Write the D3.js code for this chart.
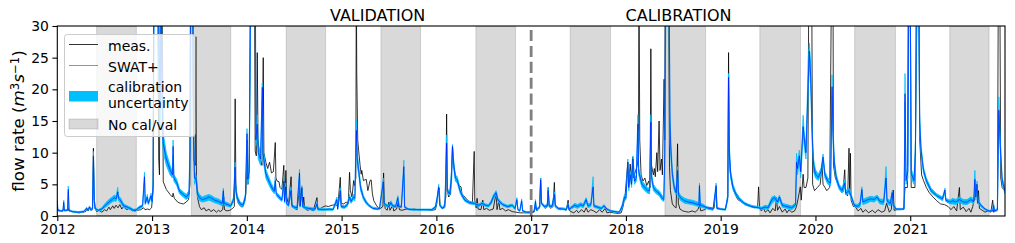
<!DOCTYPE html>
<html><head><meta charset="utf-8">
<script src="https://cdn.jsdelivr.net/npm/d3@7"></script>
<style>body{margin:0;background:#fff} text{font-family:"DejaVu Sans",sans-serif}</style>
</head><body><svg id="c" width="1015" height="243"></svg>
<script>
// ---------- DATA ----------
const yearTicks = [2012,2013,2014,2015,2016,2017,2018,2019,2020,2021];
const yTicks = [0,5,10,15,20,25,30];
const panelTitles = [{label:"VALIDATION", at:2015.38},{label:"CALIBRATION", at:2018.555}];
const splitYear = 2017;
// "No cal/val" periods (June-October)
const noCalVal = [[2012.415,2012.834],[2013.415,2013.830],[2014.415,2014.831],[2015.415,2015.833],[2016.417,2016.835],
  [2017.412,2017.838],[2018.412,2018.840],[2019.413,2019.842],[2020.414,2020.844],[2021.417,2021.832]];
// measured flow [decimal year, m3/s]
const meas = [
[2012.000,1.2],[2012.010,1.0],[2012.025,0.9],[2012.045,0.8],[2012.066,1.1],[2012.074,0.8],[2012.100,0.9],[2012.114,1.3],[2012.122,0.8],[2012.150,0.7],
[2012.190,0.6],[2012.230,0.5],[2012.270,0.6],[2012.300,0.7],[2012.315,1.2],[2012.325,0.8],[2012.343,1.4],[2012.353,0.9],[2012.372,1.0],[2012.381,10.7],
[2012.389,3.0],[2012.398,1.2],[2012.415,0.7],[2012.440,0.9],[2012.470,0.6],[2012.500,1.0],[2012.520,0.8],[2012.545,1.4],[2012.560,1.0],[2012.585,1.6],
[2012.600,1.2],[2012.620,1.7],[2012.640,1.3],[2012.660,1.8],[2012.680,1.1],[2012.700,1.5],[2012.730,1.0],[2012.760,1.2],[2012.790,0.8],[2012.820,1.1],
[2012.850,0.9],[2012.880,1.0],[2012.910,1.3],[2012.925,1.0],[2012.950,1.1],[2012.975,1.0],[2012.995,1.3],[2013.010,4.0],[2013.018,38],[2013.060,38],
[2013.070,9],[2013.078,6.5],[2013.088,38],[2013.105,38],[2013.118,5.4],[2013.150,4.2],[2013.190,3.4],[2013.215,3.0],[2013.222,3.6],[2013.235,2.8],
[2013.270,2.2],[2013.300,2.0],[2013.330,1.9],[2013.360,2.2],[2013.385,2.6],[2013.400,5],[2013.405,38],[2013.425,38],[2013.440,9],[2013.455,8],
[2013.462,28.3],[2013.468,6],[2013.480,2.9],[2013.500,1.5],[2013.520,1.0],[2013.550,1.3],[2013.570,0.8],[2013.600,1.1],[2013.620,0.7],[2013.650,1.0],
[2013.680,0.6],[2013.700,0.9],[2013.720,0.7],[2013.745,1.0],[2013.756,3.0],[2013.764,1.0],[2013.790,0.8],[2013.820,0.9],[2013.850,1.2],[2013.868,1.5],
[2013.877,18.5],[2013.884,5.0],[2013.895,3.0],[2013.910,2.0],[2013.930,1.6],[2013.950,1.4],[2013.970,2.0],[2013.990,3.5],[2014.005,12.0],[2014.012,5.0],
[2014.025,8.0],[2014.040,38],[2014.080,38],[2014.088,10.3],[2014.100,9.5],[2014.110,25.8],[2014.118,12],[2014.140,9],[2014.160,8],[2014.173,25],
[2014.180,10],[2014.200,8.5],[2014.220,7.5],[2014.240,8.5],[2014.260,6.8],[2014.280,7.0],[2014.300,11.6],[2014.307,6.0],[2014.320,5.5],[2014.340,5.4],
[2014.350,4.5],[2014.370,4.2],[2014.390,8.0],[2014.397,4.5],[2014.405,3.5],[2014.412,7.2],[2014.420,3.0],[2014.440,1.8],[2014.467,6.2],[2014.475,2.0],
[2014.500,1.2],[2014.530,1.0],[2014.556,4.5],[2014.563,1.5],[2014.580,4.6],[2014.590,1.5],[2014.600,3.0],[2014.610,1.2],[2014.640,0.9],[2014.670,1.1],
[2014.700,0.8],[2014.740,2.9],[2014.750,1.0],[2014.780,1.2],[2014.800,1.4],[2014.830,1.6],[2014.860,1.5],[2014.900,1.7],[2014.930,1.8],[2014.960,1.6],
[2014.986,6.1],[2014.995,2.0],[2015.020,1.9],[2015.050,2.2],[2015.070,1.9],[2015.084,6.9],[2015.092,4.0],[2015.110,3.0],[2015.127,5.6],[2015.135,4.8],
[2015.150,6],[2015.155,38],[2015.160,22.4],[2015.170,12],[2015.180,10.3],[2015.195,8],[2015.207,6.6],[2015.213,7.2],[2015.230,5.6],[2015.260,5.8],
[2015.277,4.0],[2015.300,5.6],[2015.312,5.7],[2015.325,3.5],[2015.340,2.4],[2015.370,1.6],[2015.400,1.1],[2015.436,1.5],[2015.443,6.8],[2015.450,2.5],
[2015.460,1.2],[2015.480,0.9],[2015.500,2.2],[2015.510,0.9],[2015.540,1.7],[2015.550,0.8],[2015.580,1.1],[2015.600,2.3],[2015.610,1.0],[2015.640,0.9],
[2015.680,1.1],[2015.720,1.0],[2015.760,1.1],[2015.800,1.0],[2015.850,1.0],[2015.900,1.0],[2015.950,0.9],[2015.990,1.0],[2016.005,2.0],[2016.020,4.0],
[2016.030,4.4],[2016.040,1.5],[2016.060,1.3],[2016.080,1.5],[2016.100,3.0],[2016.108,16.1],[2016.115,4.0],[2016.130,3.0],[2016.150,3.5],[2016.170,11.0],
[2016.180,8.0],[2016.200,6.5],[2016.220,5.5],[2016.240,4.8],[2016.260,4.6],[2016.270,3.5],[2016.300,3.0],[2016.330,2.5],[2016.360,2.2],[2016.380,2.0],
[2016.399,10.2],[2016.405,2.5],[2016.420,1.3],[2016.430,2.8],[2016.440,1.1],[2016.470,1.0],[2016.490,2.5],[2016.500,1.0],[2016.530,1.2],[2016.560,0.9],
[2016.600,1.1],[2016.630,3.6],[2016.640,1.0],[2016.660,2.5],[2016.670,1.0],[2016.700,1.2],[2016.730,0.8],[2016.760,1.0],[2016.800,0.7],[2016.840,0.6],
[2016.880,0.5],[2016.920,0.5],[2016.960,0.5],[2017.000,0.5],[2017.030,0.6],[2017.050,1.5],[2017.060,0.8],[2017.090,1.5],[2017.100,6.0],[2017.110,2.0],
[2017.130,1.5],[2017.150,1.2],[2017.170,1.5],[2017.180,4.5],[2017.190,1.5],[2017.210,1.2],[2017.230,1.5],[2017.245,5.3],[2017.255,1.5],[2017.280,1.1],
[2017.310,1.0],[2017.340,1.2],[2017.370,0.9],[2017.390,2.5],[2017.400,0.9],[2017.420,0.7],[2017.450,0.5],[2017.480,0.9],[2017.500,0.5],[2017.530,1.0],
[2017.560,0.6],[2017.580,1.3],[2017.600,0.6],[2017.630,1.0],[2017.660,0.8],[2017.690,0.5],[2017.720,1.0],[2017.750,0.6],[2017.780,1.2],[2017.800,0.5],
[2017.830,0.6],[2017.870,0.5],[2017.920,0.4],[2017.950,0.5],[2017.970,1.5],[2017.990,3.0],[2018.020,8.5],[2018.030,5.0],[2018.045,8.2],[2018.060,5.5],
[2018.070,9.3],[2018.080,6.0],[2018.100,7.0],[2018.120,8],[2018.132,10],[2018.138,38],[2018.146,12],[2018.160,6.5],[2018.180,5.5],[2018.200,6.0],
[2018.220,4.8],[2018.240,5.5],[2018.255,4.5],[2018.263,26.4],[2018.270,8],[2018.290,6.5],[2018.300,7.5],[2018.310,6.2],[2018.326,10.0],[2018.335,7.0],
[2018.350,15],[2018.360,7.2],[2018.375,9],[2018.385,6.5],[2018.403,21.6],[2018.410,12],[2018.415,38],[2018.450,38],[2018.460,7.7],[2018.470,4.0],
[2018.490,1.9],[2018.510,1.5],[2018.530,1.3],[2018.545,11.4],[2018.553,2.0],[2018.570,1.1],[2018.600,0.8],[2018.630,0.7],[2018.660,0.6],[2018.700,0.8],
[2018.730,0.6],[2018.760,1.0],[2018.778,1.8],[2018.790,0.8],[2018.830,1.0],[2018.870,1.4],[2018.900,1.3],[2018.930,1.2],[2018.952,4.5],[2018.960,1.3],
[2018.990,1.1],[2019.020,1.0],[2019.050,1.1],[2019.075,3.0],[2019.083,25.8],[2019.090,10],[2019.100,7],[2019.120,5],[2019.150,3.5],[2019.180,2.6],
[2019.210,2.3],[2019.240,2.0],[2019.270,1.7],[2019.300,1.8],[2019.330,1.4],[2019.360,1.3],[2019.390,1.5],[2019.400,4.6],[2019.410,1.2],[2019.430,0.8],
[2019.450,1.3],[2019.470,0.6],[2019.500,1.0],[2019.520,0.5],[2019.550,1.2],[2019.575,0.8],[2019.589,2.9],[2019.600,0.9],[2019.620,1.5],[2019.650,0.6],
[2019.680,1.1],[2019.700,0.5],[2019.720,1.0],[2019.750,0.6],[2019.780,0.8],[2019.800,1.5],[2019.820,3.0],[2019.840,4.6],[2019.850,2.5],[2019.870,6.6],
[2019.880,4.5],[2019.900,4.5],[2019.920,6],[2019.930,38],[2019.960,38],[2019.970,5],[2019.990,4.0],[2020.020,4.5],[2020.050,5.0],[2020.070,8.2],
[2020.080,5],[2020.100,4.5],[2020.120,4.0],[2020.150,4.5],[2020.170,38],[2020.185,38],[2020.190,8],[2020.210,6],[2020.240,5],[2020.260,4.5],
[2020.290,3.8],[2020.309,7.3],[2020.318,3.5],[2020.340,3.2],[2020.354,10.7],[2020.360,4.0],[2020.369,9.9],[2020.376,2.5],[2020.400,1.5],[2020.420,1.5],
[2020.450,0.8],[2020.480,1.2],[2020.500,0.6],[2020.530,1.0],[2020.560,0.5],[2020.600,0.9],[2020.630,0.5],[2020.660,1.0],[2020.700,0.6],[2020.730,0.8],
[2020.750,2.0],[2020.780,0.6],[2020.800,1.0],[2020.820,4.1],[2020.830,0.9],[2020.860,1.0],[2020.900,1.0],[2020.930,1.1],[2020.945,4.5],[2020.970,4.5],
[2020.980,38],[2021.000,38],[2021.010,4.5],[2021.050,4.5],[2021.065,24.5],[2021.075,38],[2021.090,38],[2021.100,12],[2021.120,6.5],[2021.140,5.6],
[2021.170,4.5],[2021.200,3.7],[2021.240,3.0],[2021.280,2.4],[2021.320,1.9],[2021.360,1.8],[2021.400,1.5],[2021.430,1.0],[2021.460,1.5],[2021.490,0.8],
[2021.519,4.5],[2021.528,1.0],[2021.560,1.4],[2021.590,0.7],[2021.620,1.2],[2021.640,0.6],[2021.660,1.5],[2021.680,3.0],[2021.700,5.0],[2021.710,2.0],
[2021.720,4.0],[2021.730,1.2],[2021.760,0.9],[2021.790,0.6],[2021.820,0.8],[2021.850,0.6],[2021.870,2.5],[2021.880,0.6],[2021.920,1.0],[2021.930,38],
[2021.945,38],[2021.955,6],[2021.970,4.5],[2021.997,4.0]];
// SWAT+ simulation [decimal year, lower, median, upper]
const swat = [
[2012.000,1.8,2.2,2.6],[2012.006,0.8,0.9,1.0],[2012.030,0.7,0.8,0.9],[2012.060,0.7,0.8,0.9],[2012.068,1.9,2.2,2.5],[2012.075,0.8,0.9,1.0],[2012.108,0.8,0.9,1.0],
[2012.116,3.8,4.2,4.7],[2012.124,0.8,0.9,1.0],[2012.160,0.6,0.7,0.8],[2012.220,0.5,0.6,0.7],[2012.280,0.6,0.7,0.8],[2012.310,1.0,1.2,1.4],[2012.320,0.8,0.9,1.0],
[2012.340,1.2,1.4,1.6],[2012.350,0.9,1.0,1.1],[2012.372,1.0,1.2,1.4],[2012.381,8.5,9.5,10.2],[2012.390,2.2,2.5,2.8],[2012.400,1.0,1.2,1.4],[2012.430,0.8,0.9,1.0],
[2012.470,0.9,1.1,1.3],[2012.500,1.3,1.6,1.9],[2012.530,1.6,2.0,2.4],[2012.560,2.0,2.4,2.8],[2012.580,2.2,2.6,3.0],[2012.600,2.4,2.9,3.3],[2012.620,2.3,2.7,3.1],
[2012.638,3.4,3.8,4.5],[2012.646,2.4,2.8,3.2],[2012.670,2.0,2.4,2.8],[2012.700,1.3,1.6,1.9],[2012.740,1.2,1.4,1.6],[2012.780,0.9,1.1,1.3],[2012.820,0.7,0.8,0.9],
[2012.860,1.1,1.3,1.5],[2012.900,1.4,1.6,1.8],[2012.920,5.5,6.2,6.9],[2012.928,1.8,2.0,2.2],[2012.950,2.6,3.0,3.4],[2012.960,1.8,2.0,2.2],[2012.990,2.8,3.2,3.6],
[2013.000,2.0,2.3,2.6],[2013.012,4,5,6],[2013.020,30,38,40],[2013.060,30,38,40],[2013.085,14,17,20],[2013.095,30,35,40],[2013.110,12,14,16],[2013.118,10,11.5,13],
[2013.150,8,9,10],[2013.190,6.5,7.3,8],[2013.215,6,6.5,7],[2013.222,9.5,11,12],[2013.230,5.5,6,6.5],[2013.260,4.8,5.3,5.8],[2013.290,3.5,3.9,4.3],[2013.330,3.0,3.4,3.8],
[2013.360,2.6,3.0,3.4],[2013.390,3.0,3.5,4.0],[2013.400,8,10,12],[2013.408,30,38,40],[2013.430,30,38,40],[2013.438,10,12,14],[2013.448,5,6,7],[2013.463,5.5,6,6.5],
[2013.480,3.0,3.5,4.0],[2013.500,2.4,2.9,3.4],[2013.530,2.2,2.6,3.0],[2013.560,2.3,2.7,3.2],[2013.600,2.5,3.0,3.4],[2013.630,2.3,2.8,3.2],[2013.660,2.1,2.5,2.9],
[2013.700,1.9,2.3,2.7],[2013.740,1.6,2.0,2.3],[2013.752,3.5,4.0,4.4],[2013.760,1.7,2.0,2.3],[2013.800,1.5,1.8,2.1],[2013.830,1.4,1.6,1.8],[2013.860,2.2,2.6,3.0],
[2013.876,6.8,7.7,8.5],[2013.884,3.5,4.0,4.5],[2013.900,2.4,2.8,3.2],[2013.930,1.6,1.9,2.2],[2013.960,1.4,1.7,2.0],[2013.985,2.5,3.0,3.5],[2014.002,11.5,13.0,13.8],
[2014.010,5,5.8,6.5],[2014.025,6,7,8],[2014.040,30,38,40],[2014.090,30,38,40],[2014.095,11,12,13],[2014.110,13,14.5,16],[2014.120,9,10,11],[2014.145,8,9,10],
[2014.163,18.5,20.3,21],[2014.170,9,10,11],[2014.200,6,6.7,7.4],[2014.230,5,5.6,6.2],[2014.260,4.1,4.6,5.1],[2014.290,3.5,3.9,4.3],[2014.300,5,5.6,6.2],
[2014.310,3.2,3.5,3.8],[2014.340,2.7,3.0,3.3],[2014.370,2.3,2.5,2.8],[2014.390,4.5,5.5,6.2],[2014.398,2.1,2.3,2.5],[2014.410,4.0,4.6,5.2],[2014.418,1.8,2.0,2.2],
[2014.440,1.5,1.7,1.9],[2014.467,3.5,4.0,4.6],[2014.475,1.4,1.6,1.8],[2014.500,1.2,1.4,1.6],[2014.530,1.1,1.3,1.5],[2014.556,6.0,6.8,7.4],[2014.563,1.4,1.6,1.8],
[2014.580,3.8,4.4,4.8],[2014.590,1.3,1.5,1.7],[2014.620,1.1,1.3,1.5],[2014.650,1.0,1.2,1.4],[2014.690,0.9,1.1,1.3],[2014.720,0.9,1.1,1.3],[2014.740,1.6,1.9,2.2],
[2014.750,0.9,1.1,1.3],[2014.790,0.9,1.0,1.2],[2014.830,0.9,1.0,1.2],[2014.870,0.9,1.1,1.2],[2014.910,0.9,1.0,1.2],[2014.950,2.2,2.6,3.0],[2014.958,1.0,1.1,1.2],
[2014.986,3.4,4.0,4.4],[2014.995,1.3,1.5,1.7],[2015.030,1.2,1.4,1.6],[2015.060,1.5,1.8,2.0],[2015.084,2.6,3.0,3.4],[2015.100,2.0,2.3,2.6],[2015.127,2.6,3.0,3.4],
[2015.140,2.4,2.8,3.2],[2015.150,8,10,12],[2015.157,12.5,13.5,15.3],[2015.165,8,9,10],[2015.180,6.5,7.2,8.0],[2015.200,4.0,4.5,5.0],[2015.230,2.6,2.9,3.2],
[2015.260,1.9,2.1,2.4],[2015.290,1.5,1.6,1.8],[2015.330,1.1,1.2,1.4],[2015.370,1.0,1.1,1.3],[2015.400,1.0,1.2,1.4],[2015.440,4.8,5.4,6.0],[2015.448,1.8,2.0,2.2],
[2015.470,1.5,1.7,1.9],[2015.500,1.3,1.5,1.7],[2015.520,1.8,2.1,2.4],[2015.540,1.4,1.6,1.8],[2015.570,1.3,1.5,1.7],[2015.594,2.5,2.9,3.2],[2015.602,1.4,1.5,1.7],
[2015.630,1.3,1.4,1.6],[2015.657,6.5,7.8,8.8],[2015.665,1.3,1.4,1.6],[2015.700,1.0,1.1,1.2],[2015.750,0.9,1.0,1.1],[2015.800,0.9,1.0,1.1],[2015.850,0.9,1.0,1.1],
[2015.900,0.9,1.0,1.1],[2015.950,0.9,1.0,1.1],[2015.990,1.2,1.4,1.6],[2016.010,2.5,3.0,3.3],[2016.025,4.3,4.6,5.0],[2016.035,1.6,1.8,2.0],[2016.060,1.1,1.2,1.4],
[2016.090,1.3,1.5,1.7],[2016.108,11.0,11.5,12.8],[2016.116,3.6,4.0,4.4],[2016.140,3.2,3.5,3.8],[2016.160,5,6,7],[2016.170,10.2,11.0,11.3],[2016.180,7.8,8.5,9.2],
[2016.200,5.5,6.0,6.5],[2016.220,5.2,5.7,6.2],[2016.250,3.6,4.0,4.4],[2016.270,3.0,3.3,3.6],[2016.300,2.3,2.5,2.8],[2016.350,1.9,2.1,2.3],[2016.400,1.8,2.0,2.2],
[2016.420,1.6,1.8,2.0],[2016.450,1.5,1.7,1.9],[2016.480,1.8,2.0,2.2],[2016.520,1.5,1.7,1.9],[2016.550,1.4,1.6,1.8],[2016.580,1.9,2.2,2.5],[2016.600,2.6,3.0,3.3],
[2016.630,3.3,3.7,4.0],[2016.650,2.2,2.5,2.8],[2016.700,1.6,1.8,2.0],[2016.750,1.3,1.5,1.7],[2016.800,1.5,1.7,1.9],[2016.830,1.0,1.2,1.4],[2016.850,2.3,2.6,2.9],
[2016.860,0.9,1.0,1.1],[2016.880,0.7,0.8,0.9],[2016.900,2.1,2.4,2.7],[2016.910,0.7,0.8,0.9],[2016.950,0.5,0.6,0.7],[2017.000,0.5,0.6,0.7],[2017.030,0.6,0.7,0.8],
[2017.046,1.9,2.3,2.6],[2017.055,0.9,1.0,1.1],[2017.090,1.2,1.4,1.6],[2017.100,5.2,5.7,6.0],[2017.110,1.8,2.0,2.2],[2017.140,1.3,1.5,1.7],[2017.170,1.4,1.6,1.8],
[2017.180,3.6,4.0,4.4],[2017.190,1.4,1.6,1.8],[2017.220,1.3,1.5,1.7],[2017.245,3.0,3.4,3.8],[2017.255,1.4,1.6,1.8],[2017.290,1.0,1.2,1.3],[2017.330,1.0,1.1,1.3],
[2017.370,0.9,1.0,1.2],[2017.390,1.5,1.8,2.0],[2017.400,0.9,1.0,1.2],[2017.430,1.2,1.4,1.6],[2017.460,1.4,1.7,2.0],[2017.490,1.2,1.5,1.8],[2017.520,1.5,1.8,2.1],
[2017.550,1.3,1.6,1.9],[2017.580,2.2,2.6,2.9],[2017.600,1.3,1.6,1.9],[2017.630,1.5,1.8,2.1],[2017.654,4.2,4.6,6.2],[2017.662,1.4,1.6,1.8],[2017.700,1.2,1.4,1.6],
[2017.740,1.0,1.2,1.4],[2017.770,1.4,1.6,1.8],[2017.800,0.9,1.1,1.2],[2017.840,0.7,0.8,0.9],[2017.880,0.6,0.7,0.8],[2017.930,0.5,0.6,0.7],[2017.960,1.2,1.5,1.8],
[2017.985,2.6,3.0,3.4],[2018.000,2.5,2.8,3.1],[2018.020,7.5,8.5,9.0],[2018.030,4.0,4.5,5.0],[2018.045,6.0,6.5,7.0],[2018.060,4.5,5.0,5.5],[2018.075,8.0,9.0,9.5],
[2018.090,5.0,5.5,6.0],[2018.110,5.5,6.0,6.5],[2018.126,13.5,14.5,16.0],[2018.135,6.5,7.0,7.5],[2018.150,5.5,6.1,6.7],[2018.170,4.5,5.0,5.5],[2018.200,4.0,4.5,5.0],
[2018.230,3.6,4.0,4.4],[2018.250,3.5,4.0,4.5],[2018.263,13.5,14.8,16.0],[2018.272,5.5,6.0,6.5],[2018.290,4.0,4.5,5.0],[2018.320,3.5,3.9,4.3],[2018.350,3.2,3.6,4.0],
[2018.380,2.5,2.9,3.3],[2018.400,2.3,2.6,2.9],[2018.410,8,10,12],[2018.420,30,38,40],[2018.455,30,38,40],[2018.465,12,14.5,16],[2018.475,9,10.3,11.5],
[2018.490,5.9,6.6,7.3],[2018.510,4.0,4.5,5.0],[2018.530,3.3,3.7,4.1],[2018.545,6.5,7.2,7.8],[2018.555,3.0,3.4,3.8],[2018.580,2.4,2.8,3.2],[2018.620,2.0,2.4,2.8],
[2018.660,1.9,2.2,2.6],[2018.700,1.8,2.1,2.5],[2018.740,1.6,1.9,2.3],[2018.770,1.5,1.8,2.1],[2018.776,4.2,4.8,5.2],[2018.784,1.4,1.7,2.0],[2018.810,1.3,1.6,1.9],
[2018.840,1.2,1.4,1.6],[2018.880,1.0,1.2,1.3],[2018.920,0.9,1.1,1.2],[2018.952,4.3,4.8,5.2],[2018.960,1.1,1.2,1.4],[2019.000,1.0,1.1,1.2],[2019.050,0.9,1.0,1.1],
[2019.075,2.5,3,3.5],[2019.083,20.5,21.9,22.5],[2019.092,9,10,11],[2019.105,6.0,6.6,7.2],[2019.130,4.1,4.5,5.0],[2019.160,3.2,3.5,3.8],[2019.200,2.4,2.6,2.9],
[2019.250,1.8,2.0,2.2],[2019.300,1.5,1.6,1.8],[2019.350,1.3,1.4,1.6],[2019.400,1.2,1.3,1.5],[2019.430,1.0,1.2,1.4],[2019.470,1.1,1.4,1.7],[2019.500,1.0,1.3,1.6],
[2019.540,2.0,2.6,3.0],[2019.570,2.4,2.9,3.2],[2019.600,1.8,2.2,2.6],[2019.620,2.5,3.0,3.3],[2019.650,1.4,1.7,2.0],[2019.700,1.2,1.5,1.8],[2019.750,1.0,1.3,1.6],
[2019.790,1.5,1.8,2.1],[2019.800,7,8.5,9.9],[2019.810,6.5,7.5,8.5],[2019.830,8.5,9.5,10.4],[2019.845,6,7,8],[2019.860,10,11.5,12.5],[2019.870,13.5,14.1,15.9],
[2019.880,11,12.5,13.5],[2019.900,9,10,11],[2019.925,20,22,25],[2019.935,24,26,27.3],[2019.950,20,22,24],[2019.965,12,13,14],[2019.980,7,8,9],[2020.000,6,6.6,7.3],
[2020.030,5.6,6.1,6.6],[2020.060,6.5,7,7.6],[2020.080,8.5,9.3,9.8],[2020.100,6,6.5,7],[2020.130,5,5.5,6],[2020.160,4.8,5.2,5.6],[2020.175,19,20.4,22.3],
[2020.185,12,13,14],[2020.200,7.5,8.2,9],[2020.220,5.5,6,6.5],[2020.250,4.2,4.6,5.0],[2020.280,3.6,4.0,4.4],[2020.309,4.5,5.2,5.8],[2020.320,3.3,3.6,4.0],
[2020.354,3.6,4.0,4.4],[2020.380,2.7,3.0,3.3],[2020.410,1.5,1.7,1.9],[2020.440,1.3,1.5,1.8],[2020.470,1.4,1.8,2.2],[2020.490,3.7,4.2,4.6],[2020.500,1.8,2.2,2.6],
[2020.540,2.0,2.5,2.9],[2020.580,2.3,2.7,3.1],[2020.620,2.2,2.6,3.0],[2020.650,2.6,3.0,3.3],[2020.680,1.9,2.3,2.7],[2020.720,1.8,2.2,2.6],[2020.745,5.5,6.0,7.8],
[2020.755,2.0,2.4,2.8],[2020.790,1.6,2.0,2.4],[2020.810,3.2,3.7,4.0],[2020.820,1.5,1.8,2.1],[2020.850,1.0,1.1,1.2],[2020.900,1.0,1.1,1.2],[2020.935,1.0,1.1,1.2],
[2020.945,18,19.3,22.5],[2020.955,5,5.6,6.2],[2020.975,6,7,8],[2020.985,30,38,40],[2021.000,30,38,40],[2021.010,6,6.7,7.4],[2021.040,5,5.6,6.2],[2021.055,8,10,12],
[2021.065,30,38,40],[2021.090,30,38,40],[2021.100,13,14.5,16],[2021.115,9.5,10.3,11],[2021.140,6.8,7.2,7.7],[2021.170,5.2,5.6,6.0],[2021.220,3.7,4.0,4.4],
[2021.280,3.0,3.2,3.5],[2021.340,2.4,2.7,3.0],[2021.367,3.6,4.1,4.4],[2021.375,2.3,2.5,2.8],[2021.420,1.9,2.2,2.5],[2021.450,1.9,2.4,2.8],[2021.480,1.8,2.2,2.6],
[2021.520,2.2,2.6,3.0],[2021.560,1.8,2.2,2.6],[2021.600,1.8,2.2,2.6],[2021.640,2.2,2.6,3.0],[2021.670,1.9,2.3,2.7],[2021.682,5.0,5.8,7.2],[2021.692,2.5,3.0,3.4],
[2021.705,4.5,5.0,5.5],[2021.715,2.0,2.3,2.6],[2021.750,1.4,1.6,1.8],[2021.790,0.9,1.1,1.2],[2021.830,0.7,0.8,0.9],[2021.870,0.7,0.8,0.9],[2021.880,1.4,1.7,2.0],
[2021.890,0.7,0.8,0.9],[2021.920,0.8,1.0,1.2],[2021.935,16,16.7,18.8],[2021.950,10,11,12],[2021.970,5.2,5.7,6.2],[2021.997,3.6,4.0,4.4]];

// ---------- CHART ----------
const svg = d3.select("#c");
const L = 57.3, R = 1005, T = 26, B = 216;
const x = d3.scaleLinear().domain([2012, 2022]).range([L, R]);
const y = d3.scaleLinear().domain([0, 30]).range([B, T]);

svg.append("defs").append("clipPath").attr("id","clip")
  .append("rect").attr("x",L).attr("y",T).attr("width",R-L).attr("height",B-T);
const plot = svg.append("g").attr("clip-path","url(#clip)");

// no cal/val spans
plot.selectAll("rect.ncv").data(noCalVal).join("rect").attr("class","ncv")
  .attr("x", d=>x(d[0])).attr("width", d=>x(d[1])-x(d[0]))
  .attr("y", T).attr("height", B-T)
  .attr("fill","#808080").attr("fill-opacity",0.3)
  .attr("stroke","#808080").attr("stroke-opacity",0.3).attr("stroke-width",1);

// measured
plot.append("path").datum(meas)
  .attr("d", d3.line().x(d=>x(d[0])).y(d=>y(d[1])))
  .attr("fill","none").attr("stroke","#000").attr("stroke-width",0.8).attr("stroke-linejoin","round");

// uncertainty band
plot.append("path").datum(swat)
  .attr("d", d3.area().x(d=>x(d[0])).y0(d=>y(d[1])).y1(d=>y(d[3])))
  .attr("fill","#00bfff").attr("stroke","#00bfff").attr("stroke-width",0.8);

// SWAT+
plot.append("path").datum(swat)
  .attr("d", d3.line().x(d=>x(d[0])).y(d=>y(d[2])))
  .attr("fill","none").attr("stroke","#0000ff").attr("stroke-width",0.8).attr("stroke-opacity",0.75).attr("stroke-linejoin","round");

// split line
svg.append("line").attr("x1",x(splitYear)).attr("x2",x(splitYear)).attr("y1",B).attr("y2",T)
  .attr("stroke","#808080").attr("stroke-width",2.8).attr("stroke-dasharray","11.1,4.8");

// axes
const xAxis = d3.axisBottom(x).tickValues(yearTicks).tickFormat(d3.format("d")).tickSize(4.9).tickPadding(3.5);
const yAxis = d3.axisLeft(y).tickValues(yTicks).tickSize(4.9).tickPadding(3.5);
const gx = svg.append("g").attr("transform",`translate(0,${B})`).call(xAxis);
const gy = svg.append("g").attr("transform",`translate(${L},0)`).call(yAxis);
[gx,gy].forEach(g=>{
  g.select(".domain").remove();
  g.selectAll(".tick line").attr("stroke","#000").attr("stroke-width",1.1);
  g.selectAll(".tick text").attr("fill","#000").style("font-size","13.9px").style("font-family","DejaVu Sans");
});
// frame
svg.append("rect").attr("x",L).attr("y",T).attr("width",R-L).attr("height",B-T)
  .attr("fill","none").attr("stroke","#000").attr("stroke-width",1.1);

// y label
const yl = svg.append("text").attr("transform",`translate(24,${(T+B)/2}) rotate(-90)`)
  .attr("text-anchor","middle").style("font-size","16.7px");
yl.append("tspan").text("flow rate (");
yl.append("tspan").style("font-style","italic").text("m");
yl.append("tspan").attr("baseline-shift","40%").style("font-size","11.7px").text("3");
yl.append("tspan").style("font-style","italic").text("s");
yl.append("tspan").attr("baseline-shift","40%").style("font-size","11.7px").text("−1");
yl.append("tspan").text(")");

// titles
svg.selectAll("text.ttl").data(panelTitles).join("text").attr("class","ttl")
  .attr("x", d=>x(d.at)).attr("y", 20.5).attr("text-anchor","middle")
  .style("font-size","16px").text(d=>d.label);

// legend
const lg = svg.append("g");
lg.append("rect").attr("x",64.5).attr("y",34.5).attr("width",130.5).attr("height",102).attr("rx",2.8)
  .attr("fill","#fff").attr("fill-opacity",0.8).attr("stroke","#cccccc").attr("stroke-width",1);
lg.append("line").attr("x1",69).attr("x2",98).attr("y1",44.5).attr("y2",44.5).attr("stroke","#000").attr("stroke-width",0.8);
lg.append("line").attr("x1",69).attr("x2",98).attr("y1",65.5).attr("y2",65.5).attr("stroke","#0000ff").attr("stroke-width",0.8).attr("stroke-opacity",0.6);
lg.append("rect").attr("x",69).attr("y",91).attr("width",29).attr("height",10.5).attr("fill","#00bfff");
lg.append("rect").attr("x",69).attr("y",119).attr("width",29).attr("height",10).attr("fill","#808080").attr("fill-opacity",0.3)
  .attr("stroke","#808080").attr("stroke-opacity",0.3);
const lt = [["meas.",50.5],["SWAT+",71.5],["calibration",92],["uncertainty",107.5],["No cal/val",129.5]];
lg.selectAll("text").data(lt).join("text").attr("x",108).attr("y",d=>d[1]).style("font-size","14px").text(d=>d[0]);
</script></body></html>
